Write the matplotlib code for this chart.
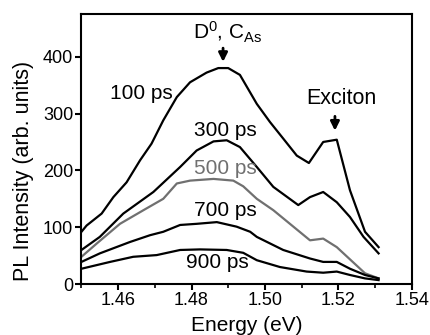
import matplotlib
matplotlib.use("Agg")
import matplotlib.pyplot as plt
from matplotlib.ticker import MultipleLocator

plt.rcParams['font.family'] = ['Liberation Sans', 'DejaVu Sans']
plt.rcParams['mathtext.fontset'] = 'custom'
plt.rcParams['mathtext.rm'] = 'Liberation Sans'
plt.rcParams['mathtext.it'] = 'Liberation Sans:italic'

# PL spectra at different delays
e100 = [1.450, 1.4514, 1.4555, 1.4587, 1.4623, 1.466, 1.4691, 1.4723, 1.476, 1.4796, 1.4841,
        1.4873, 1.490, 1.4932, 1.4978, 1.5014, 1.505, 1.5087, 1.512, 1.5159, 1.5196, 1.5232,
        1.5273, 1.531]
i100 = [92, 103, 124, 153, 179, 218, 247, 288, 329, 355, 372, 380, 380, 368, 317, 285, 256,
        226, 213, 250, 254, 165, 92, 65]

e300 = [1.450, 1.455, 1.4614, 1.4696, 1.4769, 1.4814, 1.486, 1.4896, 1.4932, 1.4978, 1.5023,
        1.5091, 1.5123, 1.5159, 1.5196, 1.5232, 1.5269, 1.531]
i300 = [60, 83, 124, 162, 206, 235, 251, 253, 241, 206, 171, 139, 153, 162, 144, 118, 83, 54]

e500 = [1.450, 1.4541, 1.4605, 1.4669, 1.4723, 1.476, 1.4796, 1.486, 1.4914, 1.4941, 1.4978,
        1.5023, 1.5123, 1.5159, 1.5196, 1.5273, 1.531]
i500 = [48, 71, 106, 130, 150, 177, 182, 185, 182, 172, 150, 130, 77, 80, 65, 19, 10]

e700 = [1.450, 1.455, 1.4632, 1.4687, 1.4723, 1.4769, 1.4814, 1.4869, 1.4923, 1.4960, 1.4978,
        1.505, 1.5123, 1.5159, 1.5196, 1.5232, 1.5273, 1.531]
i700 = [39, 54, 74, 86, 92, 104, 106, 109, 101, 92, 83, 60, 45, 39, 39, 27, 16, 10]

e900 = [1.450, 1.4578, 1.4641, 1.4705, 1.4769, 1.4823, 1.4896, 1.4941, 1.4978, 1.5041, 1.5114,
        1.5159, 1.5196, 1.5232, 1.5273, 1.531]
i900 = [27, 39, 48, 51, 60, 61, 60, 55, 42, 30, 22, 20, 22, 16, 10, 7]

series = [
    (e100, i100, "100 ps", "black", (1.4662, 335)),
    (e300, i300, "300 ps", "black", (1.4891, 270)),
    (e500, i500, "500 ps", "#707070", (1.4891, 203)),
    (e700, i700, "700 ps", "black", (1.4891, 130)),
    (e900, i900, "900 ps", "black", (1.4870, 38)),
]

fig = plt.figure(figsize=(4.31, 3.35), dpi=100)
ax = fig.add_axes([0.189, 0.152, 0.766, 0.806])

for e, i, lab, col, pos in series:
    ax.plot(e, i, color=col, lw=1.6)
    ax.text(pos[0], pos[1], lab, color=col, fontsize=15, ha="center", va="center")

ax.text(1.4900, 442, r"D$^0$, C$_{\mathrm{As}}$", fontsize=15, ha="center", va="center")
ax.annotate("", xy=(1.4886, 386), xytext=(1.4886, 420),
            arrowprops=dict(arrowstyle="-|>", color="k", lw=2, mutation_scale=13))
ax.text(1.5208, 326, "Exciton", fontsize=15.5, ha="center", va="center")
ax.annotate("", xy=(1.5191, 265), xytext=(1.5191, 300),
            arrowprops=dict(arrowstyle="-|>", color="k", lw=2, mutation_scale=13))

ax.set_xlim(1.45, 1.54)
ax.set_ylim(0, 475)
ax.xaxis.set_minor_locator(MultipleLocator(0.01))
ax.yaxis.set_major_locator(MultipleLocator(100))
ax.set_xticks([1.46, 1.48, 1.50, 1.52, 1.54])
ax.set_xticklabels(["1.46", "1.48", "1.50", "1.52", "1.54"])

for s in ax.spines.values():
    s.set_linewidth(1.5)
ax.tick_params(which="major", direction="out", length=4, width=1.5, labelsize=13, pad=2)
ax.tick_params(which="minor", direction="out", length=3, width=1.2)

ax.set_xlabel("Energy (eV)", fontsize=15)
ax.set_ylabel("PL Intensity (arb. units)", fontsize=15.5)
ax.xaxis.set_label_coords(0.5, -0.118)
ax.yaxis.set_label_coords(-0.177, 0.42)
ax.yaxis.label.set_va("center")

fig.savefig("out.png", dpi=100)
